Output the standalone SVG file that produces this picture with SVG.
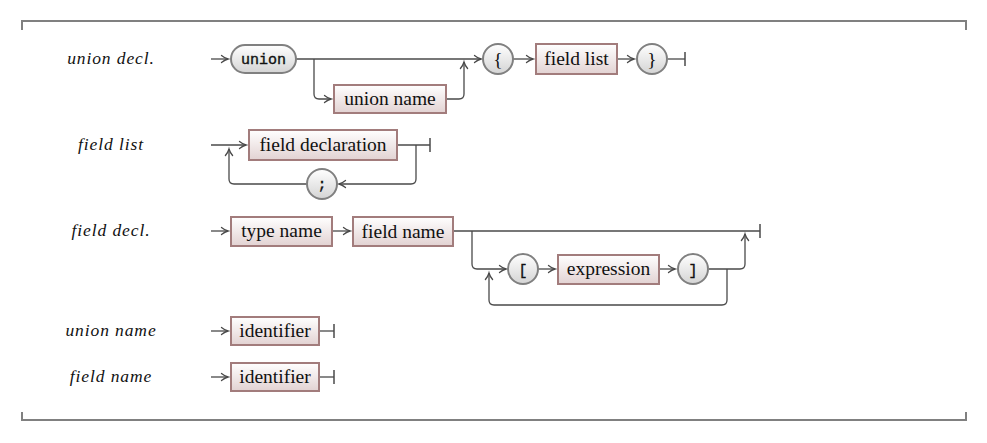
<svg xmlns="http://www.w3.org/2000/svg" width="987" height="443" viewBox="0 0 987 443">
<defs>
<linearGradient id="gBox" x1="0" y1="0" x2="0" y2="1"><stop offset="0" stop-color="#ffffff"/><stop offset="1" stop-color="#e2d2d2"/></linearGradient>
<linearGradient id="gTerm" x1="0" y1="0" x2="0" y2="1"><stop offset="0" stop-color="#ffffff"/><stop offset="1" stop-color="#d4d4d4"/></linearGradient>
<marker id="arr" markerUnits="userSpaceOnUse" markerWidth="12" markerHeight="12" viewBox="-8 -6 10 12" refX="0" refY="0" orient="auto">
<path d="M-6.5,-3.6 Q-3,-0.8 0,0 Q-3,0.8 -6.5,3.6" fill="none" stroke="#4a4a4a" stroke-width="1.3" stroke-linecap="round"/>
</marker>
<style>
.frame{fill:none;stroke:#808080;stroke-width:2}
.lbl{font-style:italic;font-size:17.5px;letter-spacing:0.9px;fill:#111;text-anchor:middle}
.box rect{fill:url(#gBox);stroke:#a27c7c;stroke-width:2}
.term rect,.term circle{fill:url(#gTerm);stroke:#808080;stroke-width:2}
.t{font-size:19.5px;fill:#111;text-anchor:middle}
.m{font-size:15px;fill:#111;stroke:#111;stroke-width:0.35;text-anchor:middle}
.c path{fill:none;stroke:#4a4a4a;stroke-width:1.3}
.c path.a{marker-end:url(#arr)}
.c path.bar{stroke-width:1.5}
</style>
</defs>
<rect width="987" height="443" fill="#ffffff"/>
<path class="frame" d="M22,30 V21 H966 V30"/>
<path class="frame" d="M22,412 V420 H966 V412"/>

<g id="labels" font-family="'Liberation Serif', 'DejaVu Serif', serif">
<text class="lbl" x="111" y="64">union decl.</text>
<text class="lbl" x="111" y="150">field list</text>
<text class="lbl" x="111" y="236">field decl.</text>
<text class="lbl" x="111" y="336">union name</text>
<text class="lbl" x="111" y="382">field name</text>
</g>

<g id="connectors" class="c">
<path class="a" d="M211,59 H228"/>
<path class="a" d="M296,59 H481"/>
<path class="a" d="M314,59 V94 Q314,99 319,99 H331"/>
<path class="a" d="M447,99 H459 Q464,99 464,94 V62"/>
<path class="a" d="M513,59 H533"/>
<path class="a" d="M617,59 H634"/>
<path d="M668,59 H685"/>
<path class="bar" d="M685,52 V66"/>

<path class="a" d="M211,145 H246"/>
<path d="M397,145 H430"/>
<path class="bar" d="M430,138 V152"/>
<path class="a" d="M416,145 V179 Q416,184 411,184 H339"/>
<path class="a" d="M307,184 H234 Q229,184 229,179 V149"/>

<path class="a" d="M211,231 H228"/>
<path class="a" d="M332,231 H350"/>
<path d="M453,231 H760"/>
<path class="bar" d="M760,224 V238"/>
<path class="a" d="M472,231 V264 Q472,269 477,269 H506"/>
<path class="a" d="M538,269 H555"/>
<path class="a" d="M659,269 H675"/>
<path class="a" d="M709,269 H740 Q745,269 745,264 V234"/>
<path class="a" d="M727,269 V300 Q727,305 722,305 H494 Q489,305 489,300 V273"/>

<path class="a" d="M211,331 H228"/>
<path d="M319,331 H334"/>
<path class="bar" d="M334,324 V338"/>
<path class="a" d="M211,377 H228"/>
<path d="M319,377 H334"/>
<path class="bar" d="M334,370 V384"/>
</g>

<g font-family="'Liberation Serif', 'DejaVu Serif', serif">
<g id="n-union" class="term"><rect x="231" y="45" width="65" height="28" rx="14"/><text class="m" x="263.5" y="64" font-family="'Liberation Mono', 'DejaVu Sans Mono', monospace">union</text></g>
<g id="n-unionname" class="box"><rect x="334" y="85" width="112" height="28"/><text class="t" x="390" y="105">union name</text></g>
<g id="n-lbrace" class="term"><circle cx="498" cy="59" r="15"/><text class="t" x="498" y="65.5">{</text></g>
<g id="n-fieldlist" class="box"><rect x="536" y="44" width="81" height="30"/><text class="t" x="576.5" y="65">field list</text></g>
<g id="n-rbrace" class="term"><circle cx="652" cy="59" r="15"/><text class="t" x="652" y="65.5">}</text></g>

<g id="n-fielddecl" class="box"><rect x="249" y="130" width="148" height="30"/><text class="t" x="323" y="151">field declaration</text></g>
<g id="n-semi" class="term"><circle cx="322" cy="184" r="15"/><text class="m" x="322" y="189" font-family="'Liberation Mono', 'DejaVu Sans Mono', monospace">;</text></g>

<g id="n-typename" class="box"><rect x="231" y="217" width="101" height="29"/><text class="t" x="281.5" y="237">type name</text></g>
<g id="n-fieldname" class="box"><rect x="353" y="217" width="100" height="29"/><text class="t" x="403" y="237.5">field name</text></g>
<g id="n-lbrack" class="term"><circle cx="523" cy="269" r="15"/><text class="m" x="523" y="274.5" font-family="'Liberation Mono', 'DejaVu Sans Mono', monospace">[</text></g>
<g id="n-expr" class="box"><rect x="558" y="255" width="101" height="29"/><text class="t" x="608.5" y="275">expression</text></g>
<g id="n-rbrack" class="term"><circle cx="693" cy="269" r="15"/><text class="m" x="693" y="274.5" font-family="'Liberation Mono', 'DejaVu Sans Mono', monospace">]</text></g>

<g id="n-ident1" class="box"><rect x="231" y="317" width="88" height="28"/><text class="t" x="275" y="337">identifier</text></g>
<g id="n-ident2" class="box"><rect x="231" y="363" width="88" height="28"/><text class="t" x="275" y="383">identifier</text></g>
</g>
</svg>
